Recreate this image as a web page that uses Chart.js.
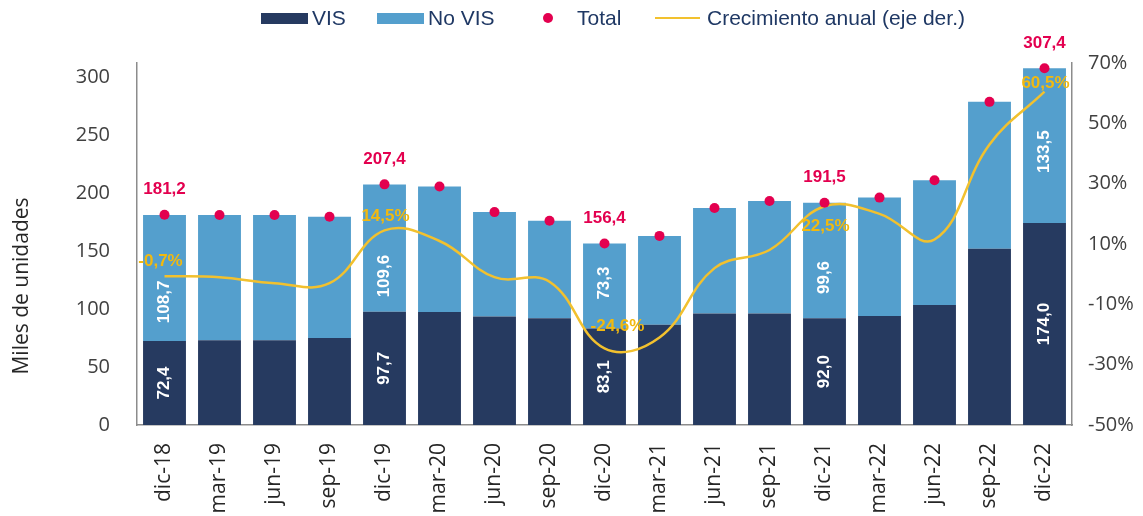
<!DOCTYPE html>
<html>
<head>
<meta charset="utf-8">
<script src="https://cdn.jsdelivr.net/npm/chart.js@4.4.1/dist/chart.umd.min.js"></script>
<style>
  body { margin: 0; background: #fff; }
  #wrap { position: relative; width: 1143px; height: 516px; }
  #leyenda { position: absolute; left: 0; top: 0; width: 1143px; height: 40px; font-family: "Liberation Sans", Arial, sans-serif; font-size: 21px; color: #1F3864; }
  #leyenda span { position: absolute; line-height: 21px; white-space: nowrap; }
  #leyenda i { position: absolute; display: block; }
</style>
</head>
<body>
<div id="wrap">
  <canvas id="grafico"></canvas>
  <div id="leyenda">
    <i style="left:261px;top:13px;width:47px;height:11px;background:#263A60"></i>
    <span style="left:312px;top:7px">VIS</span>
    <i style="left:377px;top:13px;width:47px;height:11px;background:#549FCD"></i>
    <span style="left:428px;top:7px">No VIS</span>
    <i style="left:543px;top:13px;width:10px;height:10px;border-radius:50%;background:#E3004F"></i>
    <span style="left:577px;top:7px">Total</span>
    <i style="left:655px;top:17px;width:45px;height:2px;background:#F2C12E"></i>
    <span style="left:707px;top:7px">Crecimiento anual (eje der.)</span>
  </div>
</div>
<script>
const categorias = ['dic-18', 'mar-19', 'jun-19', 'sep-19', 'dic-19', 'mar-20', 'jun-20', 'sep-20', 'dic-20',
                    'mar-21', 'jun-21', 'sep-21', 'dic-21', 'mar-22', 'jun-22', 'sep-22', 'dic-22'];
const vis = [72.4, 73, 73, 75, 97.7, 97.5, 93.5, 92, 83.1, 86.5, 96, 96, 92.0, 94, 103.5, 152, 174.0];
const noVis = [108.7, 108, 108, 104.5, 109.6, 108, 90, 84, 73.3, 76.5, 91, 97, 99.6, 102, 107.5, 126.5, 133.5];
const total = [181.2, 181, 181, 179.5, 207.4, 205.5, 183.5, 176, 156.4, 163, 187, 193, 191.5, 196, 211, 278.5, 307.4];
const crecimiento = [-0.7, -1, -3, -3, 14.5, 11, -1, -2.5, -24.6, -21, 2, 8, 22.5, 20, 11.5, 43, 60.5];
const ticksIzq = [0, 50, 100, 150, 200, 250, 300];
const ticksDer = [-50, -30, -10, 10, 30, 50, 70];

// indices con etiqueta (los diciembres)
const conEtiqueta = [0, 4, 8, 12, 16];
const ajusteNoVis = { 0: 24, 4: 28, 8: -3, 12: 17, 16: 6 };
const ajusteLinea = { 0: [-4, -15], 4: [1, -14], 8: [13, -22], 12: [1, 20], 16: [1, -8] };

const fmt = v => v.toFixed(1).replace('.', ',');

const etiquetas = {
  id: 'etiquetas',
  afterDatasetsDraw(chart) {
    const ctx = chart.ctx;
    const mVis = chart.getDatasetMeta(0).data;
    const mNo = chart.getDatasetMeta(1).data;
    const mTot = chart.getDatasetMeta(2).data;
    const mLin = chart.getDatasetMeta(3).data;
    ctx.save();
    ctx.textAlign = 'center';
    ctx.textBaseline = 'middle';
    ctx.font = 'bold 17px "Liberation Sans", Arial, sans-serif';
    conEtiqueta.forEach(i => {
      // barras, texto vertical blanco
      ctx.fillStyle = '#ffffff';
      let b = mVis[i];
      ctx.save();
      ctx.translate(b.x, (b.y + b.base) / 2);
      ctx.rotate(-Math.PI / 2);
      ctx.fillText(fmt(vis[i]), 0, 0);
      ctx.restore();
      b = mNo[i];
      ctx.save();
      ctx.translate(b.x, (b.y + b.base) / 2 + ajusteNoVis[i]);
      ctx.rotate(-Math.PI / 2);
      ctx.fillText(fmt(noVis[i]), 0, 0);
      ctx.restore();
      // total
      ctx.fillStyle = '#E3004F';
      ctx.fillText(fmt(total[i]), mTot[i].x, mTot[i].y - 25);
      // crecimiento
      ctx.fillStyle = '#F2B90F';
      const a = ajusteLinea[i];
      ctx.fillText(fmt(crecimiento[i]) + '%', mLin[i].x + a[0], mLin[i].y + a[1]);
    });
    // titulo del eje izquierdo
    ctx.fillStyle = '#262626';
    ctx.font = '21px "Open Sans", sans-serif';
    ctx.translate(22, 286);
    ctx.rotate(-Math.PI / 2);
    ctx.fillText('Miles de unidades', 0, 0);
    ctx.restore();
  }
};

const fuenteEje = { family: '"Open Sans", sans-serif', size: 20 };
const bordeEje = { display: true, color: '#8C8C8C', width: 1.5 };

new Chart(document.getElementById('grafico'), {
  type: 'bar',
  data: {
    labels: categorias,
    datasets: [
      { label: 'VIS', data: vis, backgroundColor: '#263A60', stack: 'barras', order: 3,
        barPercentage: 0.78, categoryPercentage: 1 },
      { label: 'No VIS', data: noVis, backgroundColor: '#549FCD', stack: 'barras', order: 3,
        barPercentage: 0.78, categoryPercentage: 1 },
      { label: 'Total', type: 'line', data: total, stack: 'total', showLine: false, order: 0,
        pointRadius: 5, pointHoverRadius: 5, pointBackgroundColor: '#E3004F', pointBorderWidth: 0, clip: false },
      { label: 'Crecimiento anual (eje der.)', type: 'line', data: crecimiento, yAxisID: 'y1', order: 1,
        borderColor: '#F2C12E', borderWidth: 2.5, tension: 0.4, pointRadius: 0, fill: false, clip: false }
    ]
  },
  options: {
    responsive: true,
    maintainAspectRatio: false,
    animation: false,
    layout: { padding: { top: 63, left: 0, right: 0, bottom: 0 } },
    plugins: { legend: { display: false }, tooltip: { enabled: false } },
    scales: {
      x: {
        stacked: true,
        grid: { display: false, drawTicks: false },
        border: bordeEje,
        ticks: { color: '#262626', font: { family: '"Open Sans", sans-serif', size: 21 }, minRotation: 90, maxRotation: 90, padding: 18, autoSkip: false },
        afterFit: s => { s.height = 91; }
      },
      y: {
        stacked: true,
        min: 0, max: 312,
        grid: { display: false, drawTicks: false },
        border: bordeEje,
        ticks: { color: '#404040', font: fuenteEje, padding: 27 },
        afterBuildTicks: s => { s.ticks = ticksIzq.map(v => ({ value: v })); },
        afterFit: s => { s.width = 137; }
      },
      y1: {
        position: 'right',
        min: -50, max: 70,
        grid: { display: false, drawTicks: false },
        border: bordeEje,
        ticks: { color: '#404040', font: fuenteEje, padding: 16, callback: v => v + '%' },
        afterBuildTicks: s => { s.ticks = ticksDer.map(v => ({ value: v })); },
        afterFit: s => { s.width = 71; }
      }
    }
  },
  plugins: [etiquetas]
});
</script>
</body>
</html>
